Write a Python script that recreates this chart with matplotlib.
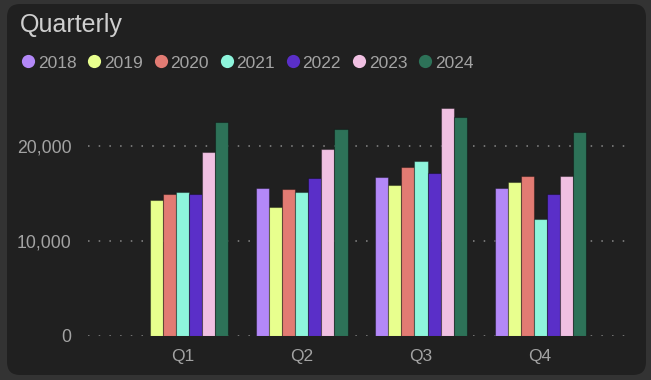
import matplotlib
matplotlib.use("Agg")
import matplotlib.pyplot as plt
import matplotlib.patches as patches
from matplotlib.lines import Line2D
from matplotlib.ticker import FuncFormatter
from matplotlib.transforms import IdentityTransform
import numpy as np

plt.rcParams["font.family"] = ["Liberation Sans", "DejaVu Sans"]

quarters = ["Q1", "Q2", "Q3", "Q4"]
years = ["2018", "2019", "2020", "2021", "2022", "2023", "2024"]
colors = ["#b388f8", "#e8ff8e", "#e27b73", "#8ef5dc", "#5a2fc8", "#f0c0e2", "#2d7258"]

# values per year, one per quarter (Q1 2018 has no bar)
v2018 = [0, 15590, 16700, 15550]
v2019 = [14330, 13520, 15860, 16220]
v2020 = [14920, 15410, 17750, 16850]
v2021 = [15170, 15130, 18420, 12330]
v2022 = [14960, 16600, 17090, 14880]
v2023 = [19370, 19640, 23920, 16850]
v2024 = [22450, 21790, 22970, 21400]
series = [v2018, v2019, v2020, v2021, v2022, v2023, v2024]

yticks = [0, 10000, 20000]

W, H = 651, 380
fig = plt.figure(figsize=(W / 100, H / 100), dpi=100)
fig.patch.set_facecolor("#333333")

# dark card with rounded corners
card = patches.FancyBboxPatch((7, 5), W - 12, H - 9,
                              boxstyle="round,pad=0,rounding_size=13",
                              facecolor="#202020", edgecolor="none",
                              transform=IdentityTransform(), zorder=-10)
fig.patches.append(card)

ax = fig.add_axes([88 / W, 44 / H, (630 - 88) / W, 246 / H])
ax.set_facecolor("none")

x = np.arange(len(quarters))
bw = 0.1095
for k, (yr, vals, c) in enumerate(zip(years, series, colors)):
    off = (k - 3) * bw
    ax.bar(x + off, vals, width=bw, color=c, edgecolor=(0, 0, 0, 0.35),
           linewidth=0.8, zorder=3)

ax.set_xlim(-0.795, 3.754)
ax.set_ylim(0, 25840)
ax.set_yticks(yticks)
ax.yaxis.set_major_formatter(FuncFormatter(lambda v, p: f"{int(v):,}"))
ax.set_xticks(x)
ax.set_xticklabels(quarters)

ax.grid(axis="y", color="#8a8a8a", linestyle=(0, (1, 6)), linewidth=1.1, zorder=1)
ax.grid(axis="x", visible=False)
for s in ax.spines.values():
    s.set_visible(False)
ax.tick_params(axis="both", length=0, colors="#a3a3a3")
ax.tick_params(axis="y", pad=12, labelsize=12.7)
ax.tick_params(axis="x", pad=9, labelsize=12.5)

fig.text(20 / W, 1 - 32 / H, "Quarterly", color="#cfcfcf", fontsize=18,
         va="baseline", ha="left")

handles = [Line2D([], [], marker="o", linestyle="none", markersize=9.5,
                  markerfacecolor=c, markeredgecolor="none") for c in colors]
fig.legend(handles, years, loc="center left", bbox_to_anchor=(9 / W, 1 - 63 / H),
           ncol=7, frameon=False, handletextpad=-0.15, columnspacing=0.34,
           handlelength=1.4, labelcolor="#a3a3a3", fontsize=12.5,
           borderaxespad=0)

fig.savefig("out.png", dpi=100, facecolor=fig.get_facecolor())
